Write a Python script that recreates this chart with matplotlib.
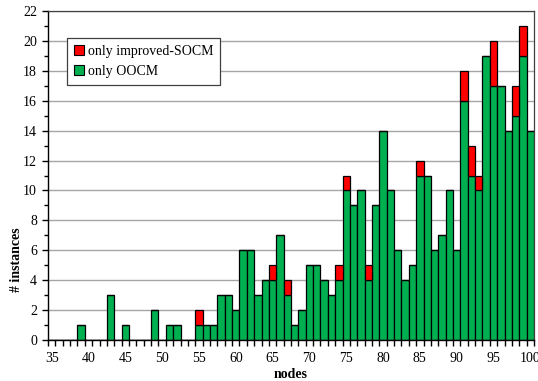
import numpy as np
import matplotlib
matplotlib.use("Agg")
import matplotlib.pyplot as plt
from matplotlib.patches import Patch

# node counts (categories 35..100)
nodes = list(range(35, 101))

# instances solved only by OOCM (green part)
only_oocm = [
    0, 0, 0, 0, 1, 0, 0, 0, 3, 0,   # 35-44
    1, 0, 0, 0, 2, 0, 1, 1, 0, 0,   # 45-54
    1, 1, 1, 3, 3, 2, 6, 6, 3, 4,   # 55-64
    4, 7, 3, 1, 2, 5, 5, 4, 3, 4,   # 65-74
    10, 9, 10, 4, 9, 14, 10, 6, 4, 5,  # 75-84
    11, 11, 6, 7, 10, 6, 16, 11, 10, 19,  # 85-94
    17, 17, 14, 15, 19, 14,          # 95-100
]

# instances solved only by improved-SOCM (red part, stacked on top)
only_socm = [
    0, 0, 0, 0, 0, 0, 0, 0, 0, 0,
    0, 0, 0, 0, 0, 0, 0, 0, 0, 0,
    1, 0, 0, 0, 0, 0, 0, 0, 0, 0,
    1, 0, 1, 0, 0, 0, 0, 0, 0, 1,
    1, 0, 0, 1, 0, 0, 0, 0, 0, 0,
    1, 0, 0, 0, 0, 0, 2, 2, 1, 0,
    3, 0, 0, 2, 2, 0,
]

green = "#00B050"
red = "#FF0000"

plt.rcParams['font.family'] = ['Liberation Serif', 'DejaVu Serif']
plt.rcParams['font.size'] = 10

fig = plt.figure(figsize=(5.38, 3.81), dpi=100)
ax = fig.add_axes([48 / 538, 1 - 340 / 381, 486 / 538, 329 / 381])

ax.bar(nodes, only_oocm, width=1.0, color=green, edgecolor="black", linewidth=0.9, zorder=3)
ax.bar(nodes, only_socm, width=1.0, bottom=only_oocm, color=red, edgecolor="black",
       linewidth=0.9, zorder=3)

ax.set_xlim(34.5, 100.5)
ax.set_ylim(0, 22)

ax.set_yticks(np.arange(0, 23, 2))
ax.set_yticks(np.arange(1, 22, 2), minor=True)
ax.set_xticks(np.arange(35, 101, 5))
ax.set_xticks(np.arange(34.5, 101, 1), minor=True)

ax.yaxis.grid(True, which="major", color="#a6a6a6", linewidth=1.0, zorder=0)
ax.tick_params(axis="y", which="major", direction="out", length=4, width=1, pad=4)
ax.tick_params(axis="y", which="minor", direction="out", length=3, width=1)
ax.tick_params(axis="x", which="major", length=0, pad=9)
ax.tick_params(axis="x", which="minor", direction="out", length=4, width=1)

for side in ["top", "right"]:
    ax.spines[side].set_color("#404040")
    ax.spines[side].set_linewidth(0.9)
for side in ["left", "bottom"]:
    ax.spines[side].set_color("black")
    ax.spines[side].set_linewidth(1.0)
ax.spines["bottom"].set_zorder(4)

ax.set_xlabel("nodes", fontweight="bold", labelpad=2)
ax.set_ylabel("# instances", fontweight="bold")
ax.yaxis.set_label_coords(-0.051, 0.243)

handles = [Patch(facecolor=red, edgecolor="black", linewidth=0.8, label="only improved-SOCM"),
           Patch(facecolor=green, edgecolor="black", linewidth=0.8, label="only OOCM")]
leg = ax.legend(handles=handles, loc="upper left", bbox_to_anchor=(19 / 486, 1 - 27 / 329),
                frameon=True, fancybox=False, edgecolor="#404040", framealpha=1,
                handlelength=0.7, handleheight=0.7, handletextpad=0.3,
                borderpad=0.5, labelspacing=0.5, borderaxespad=0)
leg.get_frame().set_linewidth(0.9)

fig.savefig("out.png", dpi=100)
